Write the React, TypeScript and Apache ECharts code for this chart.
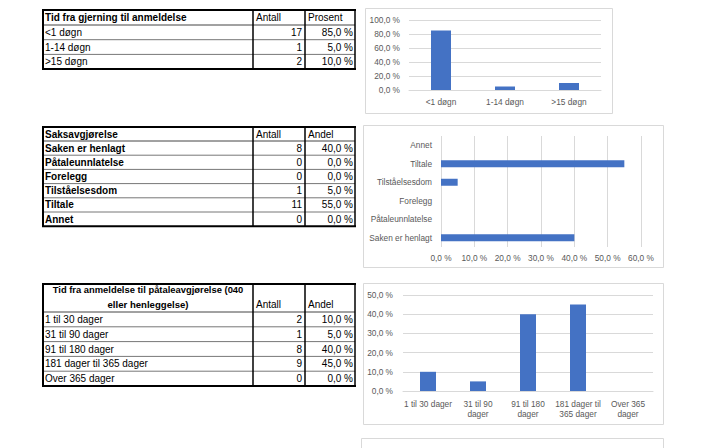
import React, { useEffect, useRef } from "react";
import * as echarts from "echarts";

// Table 1 / chart 1
const t1Header = ["Tid fra gjerning til anmeldelse", "Antall", "Prosent"];
const t1Cats = ["<1 døgn", "1-14 døgn", ">15 døgn"];
const t1Counts = [17, 1, 2];
const t1Pct = [85, 5, 10];
const c1Ticks = [0, 20, 40, 60, 80, 100];

// Table 2 / chart 2
const t2Header = ["Saksavgjørelse", "Antall", "Andel"];
const t2Cats = ["Saken er henlagt", "Påtaleunnlatelse", "Forelegg", "Tilståelsesdom", "Tiltale", "Annet"];
const t2Counts = [8, 0, 0, 1, 11, 0];
const t2Pct = [40, 0, 0, 5, 55, 0];

// Table 3 / chart 3
const t3HeaderLines = ["Tid fra anmeldelse til påtaleavgjørelse (040", "eller henleggelse)"];
const t3Header = ["Antall", "Andel"];
const t3Cats = ["1 til 30 dager", "31 til 90 dager", "91 til 180 dager", "181 dager til 365 dager", "Over 365 dager"];
const t3AxisLabels = ["1 til 30 dager", "31 til 90\ndager", "91 til 180\ndager", "181 dager til\n365 dager", "Over 365\ndager"];
const t3Counts = [2, 1, 8, 9, 0];
const t3Pct = [10, 5, 40, 45, 0];

const FONT = "Liberation Sans";
const BAR = "#4472C4";
const GRID = "#d9d9d9";
const LBL = "#595959";

const fmtPct = (v: number) => v.toFixed(1).replace(".", ",") + " %";

const X0 = 43, X1 = 253, X2 = 305, X3 = 355;

function line(x1: number, y1: number, x2: number, y2: number, w: number, c: string) {
  return { type: "line", shape: { x1, y1, x2, y2 }, style: { stroke: c, lineWidth: w }, silent: true };
}
function txt(x: number, y: number, text: string, align: string, bold: boolean, size = 10) {
  return {
    type: "text", x, y,
    style: { text, fill: "#000", font: `${bold ? "bold " : ""}${size}px "${FONT}"`, textAlign: align, textVerticalAlign: "middle" },
    silent: true,
  };
}

function table(top: number, headerH: number, rowH: number, rows: string[], counts: number[], pct: number[], rowBold: boolean, headerEls: any[]) {
  const els: any[] = [...headerEls];
  const hb = top + headerH;
  const bottom = hb + rowH * rows.length;
  rows.forEach((r, i) => {
    const cy = hb + rowH * i + rowH / 2;
    els.push(txt(X0 + 2, cy, r, "left", rowBold));
    els.push(txt(X2 - 3, cy, String(counts[i]), "right", false));
    els.push(txt(X3 - 2, cy, fmtPct(pct[i]), "right", false));
    if (i > 0) els.push(line(X0, hb + rowH * i, X3, hb + rowH * i, 1, "#777"));
  });
  els.push(line(X0, hb, X3, hb, 1, "#444"));
  els.push(line(X0 - 1, top, X3 + 1, top, 2, "#000"));
  els.push(line(X0 - 1, bottom, X3 + 1, bottom, 2, "#000"));
  els.push(line(X0, top, X0, bottom, 2, "#000"));
  els.push(line(X3, top, X3, bottom, 1.5, "#000"));
  els.push(line(X1, top, X1, bottom, 1.5, "#000"));
  els.push(line(X2, top, X2, bottom, 1.5, "#000"));
  return els;
}

export default function App() {
  const ref = useRef<HTMLDivElement>(null);
  useEffect(() => {
    if (!ref.current) return;
    const chart = echarts.init(ref.current, null, { renderer: "svg" });

    const t1Top = 10, t1HH = 15, t1RH = 14.7;
    const t1H = table(t1Top, t1HH, t1RH, t1Cats, t1Counts, t1Pct, false, [
      txt(X0 + 2, t1Top + t1HH / 2, t1Header[0], "left", true),
      txt(X1 + 3, t1Top + t1HH / 2, t1Header[1], "left", false),
      txt(X2 + 3, t1Top + t1HH / 2, t1Header[2], "left", false),
    ]);
    const t2Top = 127, t2HH = 14, t2RH = 14.2;
    const t2H = table(t2Top, t2HH, t2RH, t2Cats, t2Counts, t2Pct, true, [
      txt(X0 + 2, t2Top + t2HH / 2, t2Header[0], "left", true),
      txt(X1 + 3, t2Top + t2HH / 2, t2Header[1], "left", false),
      txt(X2 + 3, t2Top + t2HH / 2, t2Header[2], "left", false),
    ]);
    const t3Top = 284, t3HH = 28, t3RH = 14.8;
    const t3H = table(t3Top, t3HH, t3RH, t3Cats, t3Counts, t3Pct, false, [
      txt((X0 + X1) / 2, 289, t3HeaderLines[0], "center", true, 9.4),
      txt((X0 + X1) / 2, 304, t3HeaderLines[1], "center", true, 9.6),
      txt(X1 + 3, 304, t3Header[0], "left", false),
      txt(X2 + 3, 304, t3Header[1], "left", false),
    ]);

    const box = (x: number, y: number, w: number, h: number) => ({
      type: "rect", shape: { x, y, width: w, height: h },
      style: { fill: "none", stroke: GRID, lineWidth: 1 }, silent: true,
    });

    const axisLbl = { color: LBL, fontFamily: FONT, fontSize: 8.3 };

    chart.setOption({
      animation: false,
      backgroundColor: "#fff",
      graphic: [
        box(365.5, 8.5, 247, 105),
        box(363.5, 125.5, 300, 142),
        box(363.5, 283.5, 300, 141),
        box(361.5, 438.5, 302, 20),
        ...t1H, ...t2H, ...t3H,
      ],
      grid: [
        { left: 409, top: 20, width: 192, height: 70 },
        { left: 441, top: 136, width: 200, height: 111 },
        { left: 403, top: 295, width: 250, height: 96 },
      ],
      xAxis: [
        {
          gridIndex: 0, type: "category", data: t1Cats,
          axisLine: { lineStyle: { color: GRID } }, axisTick: { show: false },
          axisLabel: { ...axisLbl, margin: 8 },
        },
        {
          gridIndex: 1, type: "value", min: 0, max: 60, interval: 10,
          axisLine: { show: false }, axisTick: { show: false },
          splitLine: { lineStyle: { color: GRID } },
          axisLabel: { ...axisLbl, margin: 7, formatter: (v: number) => fmtPct(v) },
        },
        {
          gridIndex: 2, type: "category", data: t3Cats,
          axisLine: { lineStyle: { color: GRID } }, axisTick: { show: false },
          axisLabel: {
            ...axisLbl, margin: 8, lineHeight: 10, interval: 0,
            formatter: (_v: string, i: number) => t3AxisLabels[i],
          },
        },
      ],
      yAxis: [
        {
          gridIndex: 0, type: "value", min: c1Ticks[0], max: c1Ticks[c1Ticks.length - 1], interval: 20,
          axisLine: { show: false }, axisTick: { show: false },
          splitLine: { lineStyle: { color: GRID } },
          axisLabel: { ...axisLbl, margin: 9, formatter: (v: number) => fmtPct(v) },
        },
        {
          gridIndex: 1, type: "category", data: t2Cats,
          axisLine: { show: false }, axisTick: { show: false },
          axisLabel: { ...axisLbl, margin: 9 },
        },
        {
          gridIndex: 2, type: "value", min: 0, max: 50, interval: 10,
          axisLine: { show: false }, axisTick: { show: false },
          splitLine: { lineStyle: { color: GRID } },
          axisLabel: { ...axisLbl, margin: 10, formatter: (v: number) => fmtPct(v) },
        },
      ],
      series: [
        { type: "bar", xAxisIndex: 0, yAxisIndex: 0, data: t1Pct, barWidth: 20, itemStyle: { color: BAR } },
        { type: "bar", xAxisIndex: 1, yAxisIndex: 1, data: t2Pct, barWidth: 7, itemStyle: { color: BAR } },
        { type: "bar", xAxisIndex: 2, yAxisIndex: 2, data: t3Pct, barWidth: 16, itemStyle: { color: BAR } },
      ],
    });
    return () => chart.dispose();
  }, []);
  return <div ref={ref} style={{ position: "fixed", left: 0, top: 0, width: 728, height: 448 }} />;
}
